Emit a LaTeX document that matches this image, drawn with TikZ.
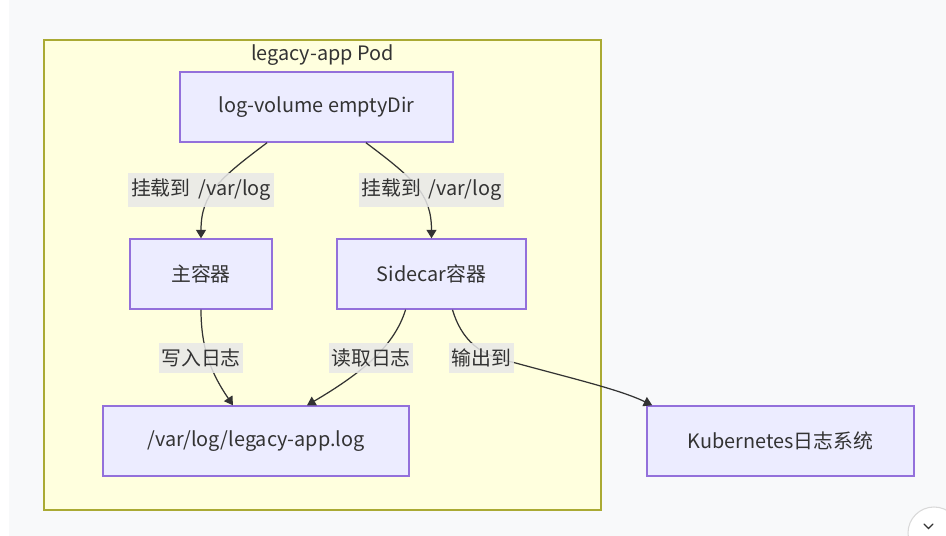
\documentclass[tikz,border=0pt]{standalone}
\usepackage{fontspec}
\setmainfont{Noto Sans CJK SC}
\usepackage{tikz}
\usetikzlibrary{calc, arrows.meta}

\definecolor{fondgris}{HTML}{F8F9FA}
\definecolor{podfond}{HTML}{FFFFDE}
\definecolor{podtrait}{HTML}{AAAA33}
\definecolor{boitefond}{HTML}{ECECFF}
\definecolor{boitetrait}{HTML}{9370DB}
\definecolor{etiqfond}{HTML}{E8E8E8}
\definecolor{encre}{HTML}{333333}

\tikzset{
  boite/.style={draw=boitetrait, fill=boitefond, line width=0.8pt, inner sep=0pt,
    minimum height=1.4cm, text=encre, font=\fontsize{11.3}{14}\selectfont},
  etiq/.style={fill=etiqfond, fill opacity=0.85, text opacity=1, inner xsep=1.5pt,
    minimum height=0.62cm, text=encre, font=\fontsize{11.3}{14}\selectfont},
  lien/.style={draw=encre, line width=0.7pt, -{Triangle[length=1.7mm,width=2mm]}}
}

\begin{document}
\begin{tikzpicture}[x=0.02cm, y=-0.02cm]
      \useasboundingbox (0,0) rectangle (946,536);
      \clip (0,0) rectangle (946,536);
      \fill[white] (0,0) rectangle (946,536);
      \fill[fondgris] (9,0) rectangle (946,536);

      \draw[podtrait, fill=podfond, line width=0.8pt] (44,40) rectangle (601,510);
      \node[text=encre, font=\fontsize{11.3}{14}\selectfont] (titre) at (322.5,55) {legacy-app Pod};

      \node[boite, minimum width=5.46cm] (vol)  at (316.5,107) {log-volume emptyDir};
      \node[boite, minimum width=2.84cm] (main) at (201,274)   {主容器};
      \node[boite, minimum width=3.78cm] (side) at (431.5,274) {Sidecar容器};
      \node[boite, minimum width=6.12cm] (logf) at (256,441)   {/var/log/legacy-app.log};
      \node[boite, minimum width=5.34cm] (k8s)  at (780.5,441) {Kubernetes日志系统};

      \draw[lien] ($(vol.south west)!0.32!(vol.south east)$)
        .. controls +(-48,36) and +(0,-44) .. (main.north);
      \draw[lien] ($(vol.south west)!0.68!(vol.south east)$)
        .. controls +(48,36) and +(0,-44) .. (side.north);
      \draw[lien] (main.south)
        .. controls +(0,40) and +(-21,-31) .. ($(logf.north west)!0.425!(logf.north east)$);
      \draw[lien] ($(side.south west)!0.364!(side.south east)$)
        .. controls +(-11,35) and +(58,-34) .. ($(logf.north west)!0.666!(logf.north east)$);
      \draw[lien] ($(side.south west)!0.61!(side.south east)$)
        .. controls +(9,30) and +(-32,-6) .. (512,362)
        .. controls +(58,16) and +(-33,-16) .. ($(k8s.north west)!0.022!(k8s.north east)$);

      \node[etiq] (monte1) at (201,190)   {挂载到\, /var/log};
      \node[etiq] (monte2) at (431.5,190) {挂载到\, /var/log};
      \node[etiq] (ecrit)  at (201,358)   {写入日志};
      \node[etiq] (lit)    at (371,358)   {读取日志};
      \node[etiq] (sortie) at (481.5,358) {输出到};

      \draw[gray!30, fill=white, line width=0.6pt] (934,533) circle (26);
      \draw[encre, line width=0.7pt, line cap=round] (924,524) -- (928.5,528.5) -- (933,524);
    \end{tikzpicture}
\end{document}
